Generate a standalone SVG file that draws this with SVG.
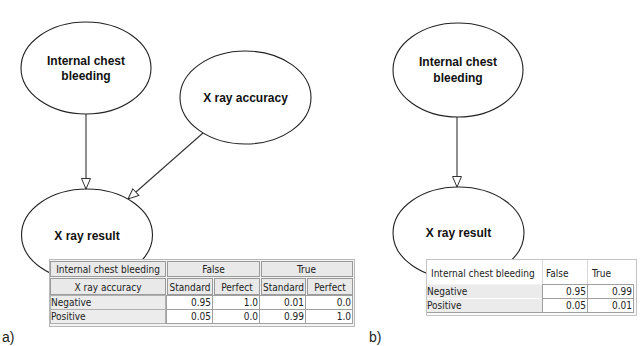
<svg xmlns="http://www.w3.org/2000/svg" width="640" height="346" viewBox="0 0 640 346">
<style>
.node{fill:#fff;stroke:#222;stroke-width:1.1}
.nl{font-family:"Liberation Sans",Arial,sans-serif;font-weight:bold;font-size:12px;fill:#111;text-anchor:middle}
.edge{stroke:#333;stroke-width:1.1;fill:none}
.t{font-family:"DejaVu Sans Condensed","Liberation Sans",sans-serif;font-size:10px;fill:#222}
.c{text-anchor:middle}
.r{text-anchor:end}
.hd{fill:#e9e9e9;stroke:#9a9a9a;stroke-width:1}
.lb{fill:#ececec;stroke:#b0b0b0;stroke-width:1}
.val{fill:#fff;stroke:#a0a0a0;stroke-width:1}
.frame{fill:#f3f3f3;stroke:#b8b8b8;stroke-width:1}
.cap{font-family:"Liberation Sans",Arial,sans-serif;font-size:14px;fill:#222}
</style>
<defs>
<marker id="arr" markerWidth="12" markerHeight="12" refX="11" refY="5" orient="auto" markerUnits="userSpaceOnUse">
<path d="M0.5,0.5 L11,5 L0.5,9.5 Z" fill="#fff" stroke="#333" stroke-width="1"/>
</marker>
</defs>

<g id="connectors">
<line class="edge" x1="86" y1="114" x2="86" y2="189" marker-end="url(#arr)"/>
<line class="edge" x1="203" y1="133" x2="128" y2="199" marker-end="url(#arr)"/>
<line class="edge" x1="457" y1="117" x2="457" y2="187" marker-end="url(#arr)"/>
</g>

<g id="a-internal-chest-bleeding">
<ellipse class="node" cx="86" cy="68" rx="65" ry="46"/>
<text class="nl" x="86" y="65">Internal chest</text>
<text class="nl" x="86" y="80">bleeding</text>
</g>

<g id="a-xray-accuracy">
<ellipse class="node" cx="245.5" cy="97.5" rx="65.5" ry="46.5"/>
<text class="nl" x="245.5" y="102">X ray accuracy</text>
</g>

<g id="a-xray-result">
<ellipse class="node" cx="87" cy="235" rx="65.5" ry="46"/>
<text class="nl" x="87" y="240">X ray result</text>
</g>

<g id="a-table">
<rect class="frame" x="49.5" y="259.5" width="305" height="67"/>
<rect class="hd" x="50.5" y="261.5" width="115" height="15"/>
<rect class="hd" x="167.5" y="261.5" width="92" height="15"/>
<rect class="hd" x="261.5" y="261.5" width="91" height="15"/>
<rect class="hd" x="50.5" y="278.5" width="115" height="16"/>
<rect class="hd" x="167.5" y="278.5" width="45" height="16"/>
<rect class="hd" x="214.5" y="278.5" width="45" height="16"/>
<rect class="hd" x="261.5" y="278.5" width="44" height="16"/>
<rect class="hd" x="307.5" y="278.5" width="45" height="16"/>
<rect class="lb" x="50.5" y="295.5" width="115" height="14"/>
<rect class="val" x="166.5" y="295.5" width="46" height="14"/>
<rect class="val" x="212.5" y="295.5" width="47" height="14"/>
<rect class="val" x="259.5" y="295.5" width="46" height="14"/>
<rect class="val" x="305.5" y="295.5" width="47" height="14"/>
<rect class="lb" x="50.5" y="309.5" width="115" height="14"/>
<rect class="val" x="166.5" y="309.5" width="46" height="14"/>
<rect class="val" x="212.5" y="309.5" width="47" height="14"/>
<rect class="val" x="259.5" y="309.5" width="46" height="14"/>
<rect class="val" x="305.5" y="309.5" width="47" height="14"/>
<text class="t c" x="108" y="273">Internal chest bleeding</text>
<text class="t c" x="213.5" y="273">False</text>
<text class="t c" x="306.5" y="273">True</text>
<text class="t c" x="108" y="291">X ray accuracy</text>
<text class="t c" x="190" y="291">Standard</text>
<text class="t c" x="237" y="291">Perfect</text>
<text class="t c" x="283.5" y="291">Standard</text>
<text class="t c" x="330" y="291">Perfect</text>
<text class="t" x="51" y="306">Negative</text>
<text class="t r" x="211" y="306">0.95</text>
<text class="t r" x="258" y="306">1.0</text>
<text class="t r" x="304" y="306">0.01</text>
<text class="t r" x="351" y="306">0.0</text>
<text class="t" x="51" y="320">Positive</text>
<text class="t r" x="211" y="320">0.05</text>
<text class="t r" x="258" y="320">0.0</text>
<text class="t r" x="304" y="320">0.99</text>
<text class="t r" x="351" y="320">1.0</text>
</g>

<g id="b-internal-chest-bleeding">
<ellipse class="node" cx="458" cy="70" rx="65" ry="47"/>
<text class="nl" x="458" y="66">Internal chest</text>
<text class="nl" x="458" y="82">bleeding</text>
</g>

<g id="b-xray-result">
<ellipse class="node" cx="458.5" cy="233" rx="65.5" ry="46"/>
<text class="nl" x="458.5" y="237">X ray result</text>
</g>

<g id="b-table">
<rect x="426.5" y="259.5" width="210" height="56" fill="#fafafa" stroke="#c4c4c4"/>
<rect x="427" y="260" width="209" height="24" fill="#fff"/>
<line x1="542.5" y1="260" x2="542.5" y2="284" stroke="#d8d8d8"/>
<line x1="587.5" y1="260" x2="587.5" y2="284" stroke="#d8d8d8"/>
<rect x="427" y="284.5" width="115" height="14" fill="#ebebeb"/>
<rect x="427" y="298.5" width="115" height="14" fill="#ebebeb"/>
<rect x="542.5" y="284.5" width="45" height="14" class="val"/>
<rect x="587.5" y="284.5" width="46" height="14" class="val"/>
<rect x="542.5" y="298.5" width="45" height="14" class="val"/>
<rect x="587.5" y="298.5" width="46" height="14" class="val"/>
<line x1="427" y1="298.5" x2="542" y2="298.5" stroke="#ffffff"/>
<line x1="427" y1="312.5" x2="633" y2="312.5" stroke="#a0a0a0"/>
<text class="t" x="431" y="277">Internal chest bleeding</text>
<text class="t" x="546" y="277">False</text>
<text class="t" x="592" y="277">True</text>
<text class="t" x="427" y="295">Negative</text>
<text class="t r" x="586" y="295">0.95</text>
<text class="t r" x="632" y="295">0.99</text>
<text class="t" x="427" y="309">Positive</text>
<text class="t r" x="586" y="309">0.05</text>
<text class="t r" x="632" y="309">0.01</text>
</g>

<text class="cap" x="2" y="342">a)</text>
<text class="cap" x="369" y="342">b)</text>
</svg>
